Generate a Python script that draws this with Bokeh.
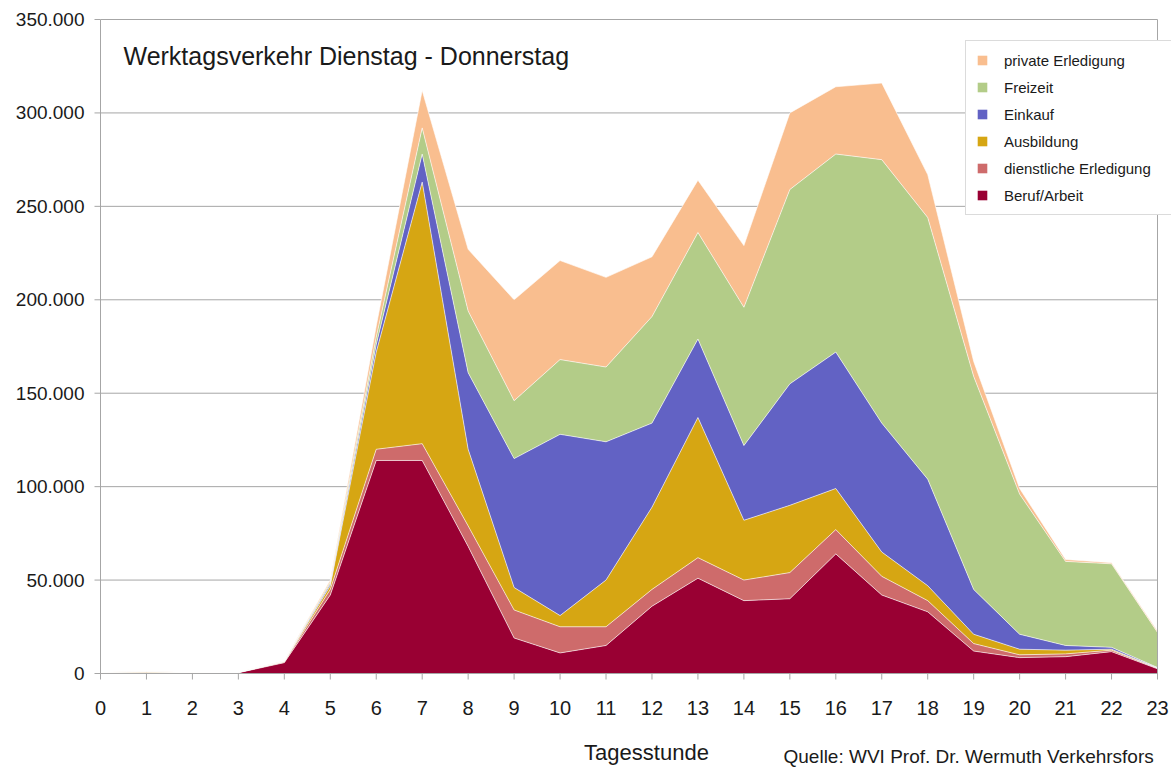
from bokeh.plotting import figure
from bokeh.models import ColumnDataSource, Legend, LegendItem, Label, Range1d
from bokeh.core.properties import value
from bokeh.embed import file_html
from bokeh.resources import INLINE

# ---- data ----
hours = list(range(24))
series_names = ["Beruf/Arbeit", "dienstliche Erledigung", "Ausbildung", "Einkauf", "Freizeit", "private Erledigung"]
beruf = [300, 400, 200, 400, 5800, 42000, 114000, 114000, 68000, 19000, 11000, 15000,
         36000, 51000, 39000, 40000, 64000, 42000, 33000, 12000, 8500, 9000, 11700, 2500]
dienstlich = [100, 100, 100, 100, 400, 3000, 6000, 9000, 11000, 15000, 14000, 10000,
              9000, 11000, 11000, 14000, 13000, 10000, 6000, 4000, 1500, 1500, 800, 300]
ausbildung = [100, 500, 50, 50, 200, 2000, 52000, 140000, 41000, 12000, 6000, 25000,
              44000, 75000, 32000, 36000, 22000, 13000, 8000, 5000, 3000, 2000, 500, 200]
einkauf = [50, 50, 50, 50, 100, 1000, 4000, 15000, 41000, 69000, 97000, 74000,
           45000, 42000, 40000, 65000, 73000, 69000, 57000, 24000, 8000, 2500, 1000, 200]
freizeit = [50, 50, 50, 50, 100, 1000, 4000, 14000, 33000, 31000, 40000, 40000,
            57000, 57000, 74000, 104000, 106000, 141000, 140000, 114000, 75000, 45000, 44700, 18800]
privat = [100, 100, 50, 50, 200, 1000, 6000, 20000, 33000, 54000, 53000, 48000,
          32000, 28000, 33000, 41000, 36000, 41000, 23000, 8000, 3000, 1000, 600, 700]
colors = ["#990033", "#CE6B6B", "#D6A613", "#6262C4", "#B3CC88", "#F9BE8F"]

y_ticks = [0, 50000, 100000, 150000, 200000, 250000, 300000, 350000]
y_tick_labels = ["0", "50.000", "100.000", "150.000", "200.000", "250.000", "300.000", "350.000"]
x_tick_labels = [str(h) for h in hours]

keys = ["beruf", "dienstlich", "ausbildung", "einkauf", "freizeit", "privat"]
source = ColumnDataSource(dict(hour=hours, beruf=beruf, dienstlich=dienstlich, ausbildung=ausbildung,
                               einkauf=einkauf, freizeit=freizeit, privat=privat))

FONT = "Liberation Sans"
GRID = "#a6a6a6"
TXT = "#1a1a1a"

# ---- geometry (pixels on the 1171x767 canvas) ----
W, H = 1171, 767
PLOT_L, PLOT_R, PLOT_T, PLOT_B = 100, 1157, 19, 673
X0, X1 = hours[0], hours[-1]
Y_MAX = y_ticks[-1]
hours_per_px = (X1 - X0) / (PLOT_R - PLOT_L)
units_per_px = Y_MAX / (PLOT_B - PLOT_T)
x_range = Range1d(X0 - PLOT_L * hours_per_px, X1 + (W - PLOT_R) * hours_per_px)
y_range = Range1d(-(H - PLOT_B) * units_per_px, Y_MAX + PLOT_T * units_per_px)

p = figure(width=W, height=H, output_backend="svg", toolbar_location=None,
           x_range=x_range, y_range=y_range,
           x_axis_location=None, y_axis_location=None, min_border=0)
p.background_fill_color = "white"
p.border_fill_color = "white"
p.outline_line_color = None
for g in p.grid:
    g.visible = False

# horizontal grid lines across the plot area
p.segment(x0=X0, x1=X1, y0=y_ticks, y1=y_ticks, line_color=GRID, line_width=1)

# stacked areas + thin separating lines
areas = p.varea_stack(stackers=keys, x="hour", color=colors, source=source)
p.vline_stack(stackers=keys, x="hour", source=source, line_color="white", line_alpha=0.6, line_width=1)

# axis lines, right border, zero line
p.segment(x0=[X0, X1], x1=[X0, X1], y0=0, y1=Y_MAX, line_color=GRID, line_width=1)
p.segment(x0=X0, x1=X1, y0=0, y1=0, line_color=GRID, line_width=1)

# y ticks and labels
p.segment(x0=X0, x1=X0 - 6 * hours_per_px, y0=y_ticks, y1=y_ticks, line_color=GRID, line_width=1)
p.text(x=X0, y=y_ticks, text=y_tick_labels, x_offset=-16, text_align="right",
       text_baseline="middle", text_font=value(FONT), text_font_size=value("19px"),
       text_color=TXT)

# x ticks and labels
p.segment(x0="hour", y0=0, x1="hour", y1=-6 * units_per_px, source=source,
          line_color=GRID, line_width=1)
p.text(x=hours, y=0, text=x_tick_labels, y_offset=34,
       text_align="center", text_baseline="middle", text_font=value(FONT),
       text_font_size=value("20px"), text_color=TXT)

# texts (screen units from the bottom-left corner of the canvas-wide frame)
p.add_layout(Label(x=123, y=H - 55, x_units="screen", y_units="screen",
                   text="Werktagsverkehr Dienstag - Donnerstag", text_font=FONT,
                   text_font_size="25px", text_color=TXT, text_baseline="middle"))
p.add_layout(Label(x=646, y=H - 752, x_units="screen", y_units="screen",
                   text="Tagesstunde", text_font=FONT, text_font_size="22px",
                   text_color=TXT, text_baseline="middle", text_align="center"))
p.add_layout(Label(x=783, y=11, x_units="screen", y_units="screen",
                   text="Quelle: WVI Prof. Dr. Wermuth Verkehrsfors", text_font=FONT,
                   text_font_size="19px", text_color=TXT, text_baseline="middle"))

# legend (top item = last stacked series)
items = [LegendItem(label=series_names[i], renderers=[areas[i]]) for i in reversed(range(6))]
legend = Legend(items=items, location=(965, H - 215))
legend.label_text_font = FONT
legend.label_text_font_size = "15px"
legend.label_text_color = TXT
legend.glyph_width = 12
legend.glyph_height = 12
legend.label_height = 18
legend.label_width = 170
legend.spacing = 9
legend.padding = 10
legend.margin = 0
legend.label_standoff = 16
legend.border_line_color = "#b8b8b8"
legend.background_fill_alpha = 1
p.add_layout(legend)

open("out.html", "w").write(file_html(p, INLINE))
